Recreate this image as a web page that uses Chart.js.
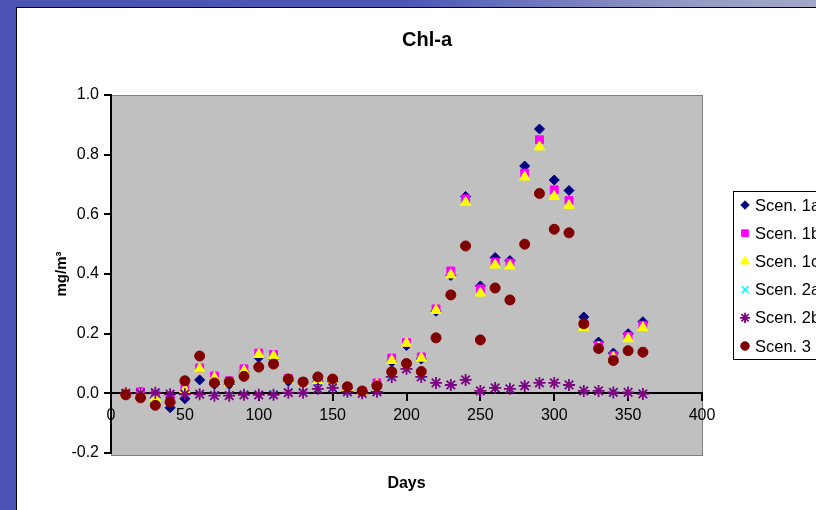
<!DOCTYPE html>
<html>
<head>
<meta charset="utf-8">
<script src="https://cdn.jsdelivr.net/npm/chart.js@4.4.1/dist/chart.umd.min.js"></script>
<style>
html,body{margin:0;padding:0;}
body{width:816px;height:510px;overflow:hidden;position:relative;
  background:linear-gradient(90deg,#4a53b4 0%,#4d57b8 50%,#6d76bc 65%,#959bc4 85%,#a3a8c9 100%);}
#frame{position:absolute;left:16px;top:7px;width:820px;height:502px;background:#fff;
  border-left:1px solid #000;border-top:1px solid #000;}
</style>
</head>
<body>
<div id="frame"><canvas id="chart"></canvas></div>
<script>
// DATA
const days = [10,20,30,40,50,60,70,80,90,100,110,120,130,140,150,160,170,180,
              190,200,210,220,230,240,250,260,270,280,290,300,310,320,330,340,350,360];
const scen1a = [0,0,-0.015,-0.048,-0.018,0.045,0.03,0.03,0.07,0.12,0.115,0.04,0.035,0.04,0.04,0.018,0.005,0.03,
                0.105,0.16,0.115,0.275,0.395,0.66,0.36,0.455,0.445,0.762,0.886,0.715,0.68,0.256,0.172,0.135,0.2,0.24];
const scen1b = [0,0.005,-0.005,-0.02,0.015,0.085,0.058,0.042,0.082,0.135,0.13,0.05,0.038,0.045,0.042,0.02,0.006,0.035,
                0.118,0.17,0.122,0.283,0.41,0.652,0.35,0.44,0.437,0.738,0.85,0.682,0.646,0.233,0.16,0.126,0.19,0.228];
const scen1c = [0,0,-0.015,-0.03,0.012,0.082,0.052,0.035,0.075,0.13,0.125,0.045,0.035,0.043,0.04,0.018,0.004,0.03,
                0.11,0.168,0.118,0.278,0.397,0.64,0.336,0.43,0.427,0.725,0.826,0.66,0.63,0.22,0.155,0.12,0.183,0.22];
const scen2a = [0,0,0.002,-0.003,-0.002,-0.002,-0.005,-0.006,-0.004,-0.004,-0.004,0.004,0.004,0.017,0.02,0.003,0,0.006,
                0.06,0.085,0.058,0.035,0.028,0.045,0.008,0.018,0.015,0.025,0.035,0.035,0.028,0.008,0.008,0.003,0.003,-0.002];
const scen2b = [0,0,0.002,-0.003,-0.003,-0.003,-0.008,-0.008,-0.005,-0.005,-0.005,0.002,0.002,0.015,0.018,0.005,0,0.005,
                0.055,0.082,0.055,0.035,0.028,0.045,0.008,0.018,0.015,0.025,0.035,0.035,0.028,0.008,0.008,0.003,0.003,-0.002];
const scen3  = [-0.005,-0.015,-0.04,-0.03,0.042,0.125,0.035,0.038,0.057,0.088,0.098,0.048,0.038,0.055,0.048,0.022,0.008,0.025,
                0.072,0.1,0.073,0.186,0.33,0.494,0.179,0.353,0.313,0.5,0.67,0.55,0.538,0.233,0.15,0.11,0.143,0.138];
const seriesNames = ["Scen. 1a","Scen. 1b","Scen. 1c","Scen. 2a","Scen. 2b","Scen. 3"];
const seriesValues = [scen1a, scen1b, scen1c, scen2a, scen2b, scen3];

// marker look, Excel style
const markers = [
    {pointStyle:'rectRot',  color:'#000080', radius:5,   borderWidth:1},
    {pointStyle:'rect',     color:'#ff00ff', radius:5.6, borderWidth:1},
    {pointStyle:'triangle', color:'#ffff00', radius:6,   borderWidth:1},
    {pointStyle:'crossRot', color:'#00ffff', radius:5.5, borderWidth:1.5},
    {pointStyle:'star',     color:'#800080', radius:6,   borderWidth:1.8},
    {pointStyle:'circle',   color:'#800000', radius:5,   borderWidth:1}
];

Chart.defaults.font.family = 'Arial, "Liberation Sans", sans-serif';
Chart.defaults.color = '#000';

const datasets = seriesValues.map((vals,i)=>({
    label: seriesNames[i],
    data: days.map((d,j)=>({x:d, y:vals[j]})),
    pointStyle: markers[i].pointStyle,
    pointRadius: markers[i].radius,
    pointBackgroundColor: markers[i].color,
    pointBorderColor: markers[i].color,
    pointBorderWidth: markers[i].borderWidth,
    showLine: false,
    order: seriesNames.length - i   // later series on top, like Excel
}));

// gray plot area
const plotBg = {
    id:'plotBg',
    beforeDraw(chart){
        const {ctx, chartArea:a} = chart;
        ctx.save();
        ctx.fillStyle = '#c0c0c0';
        ctx.fillRect(a.left, a.top, a.right-a.left, a.bottom-a.top+2);
        ctx.strokeStyle = '#808080';
        ctx.lineWidth = 1;
        ctx.strokeRect(a.left+0.5, a.top+0.5, a.right-a.left, a.bottom-a.top+2);
        ctx.restore();
    }
};

// boxed legend on the right (runs off the page edge)
const boxLegend = {
    id:'boxLegend',
    afterDraw(chart){
        const ctx = chart.ctx;
        const bx = 716, by = 183;
        ctx.save();
        ctx.fillStyle = '#fff';
        ctx.fillRect(bx, by, 200, 168);
        ctx.strokeStyle = '#000';
        ctx.lineWidth = 1;
        ctx.strokeRect(bx+0.5, by+0.5, 200, 168);
        ctx.font = '16.5px Arial, "Liberation Sans", sans-serif';
        ctx.textBaseline = 'middle';
        seriesNames.forEach((name,i)=>{
            const y = by + 14 + i*28.2;
            const m = markers[i];
            ctx.fillStyle = m.color;
            ctx.strokeStyle = m.color;
            ctx.lineWidth = m.borderWidth;
            Chart.helpers.drawPoint(ctx, {pointStyle:m.pointStyle, radius:m.radius*0.85, rotation:0, borderWidth:m.borderWidth}, bx+12, y);
            ctx.fillStyle = '#000';
            ctx.fillText(name, bx+22, y+1);
        });
        ctx.restore();
    }
};

new Chart(document.getElementById('chart'), {
    type:'scatter',
    data:{datasets},
    plugins:[plotBg, boxLegend],
    options:{
        responsive:true,
        maintainAspectRatio:false,
        animation:false,
        layout:{padding:0},
        plugins:{
            legend:{display:false},
            tooltip:{enabled:false},
            title:{display:true, text:'Chl-a', font:{size:20, weight:'bold'}, color:'#000',
                   padding:{top:20, bottom:43}}
        },
        scales:{
            x:{
                type:'linear', position:{y:0}, min:0, max:400,
                afterFit: s => { s.height = 0; },
                ticks:{stepSize:50, font:{size:16}, padding:6, maxRotation:0, autoSkip:false},
                grid:{drawOnChartArea:false, tickLength:7, color:'#000', lineWidth:2},
                border:{color:'#000', width:2}
            },
            x2:{
                type:'linear', position:'bottom', min:0, max:400,
                afterFit: s => { s.height = 57; },
                ticks:{display:false}, grid:{display:false}, border:{display:false},
                title:{display:true, text:'Days', font:{size:16, weight:'bold'}, padding:{top:0, bottom:17}}
            },
            y:{
                type:'linear', position:'left', min:-0.2, max:1.0,
                afterFit: s => { s.width = 94; },
                ticks:{stepSize:0.2, font:{size:16}, padding:5,
                       callback: v => (Math.abs(v)<1e-9 ? 0 : v).toFixed(1)},
                grid:{drawOnChartArea:false, tickLength:7, color:'#000', lineWidth:2},
                border:{color:'#000', width:2},
                title:{display:true, text:'mg/m³', font:{size:15, weight:'bold'}, padding:{top:36, bottom:0}}
            },
            y2:{
                type:'linear', position:'right',
                afterFit: s => { s.width = 135; },
                ticks:{display:false}, grid:{display:false}, border:{display:false}
            }
        }
    }
});
</script>
</body>
</html>
